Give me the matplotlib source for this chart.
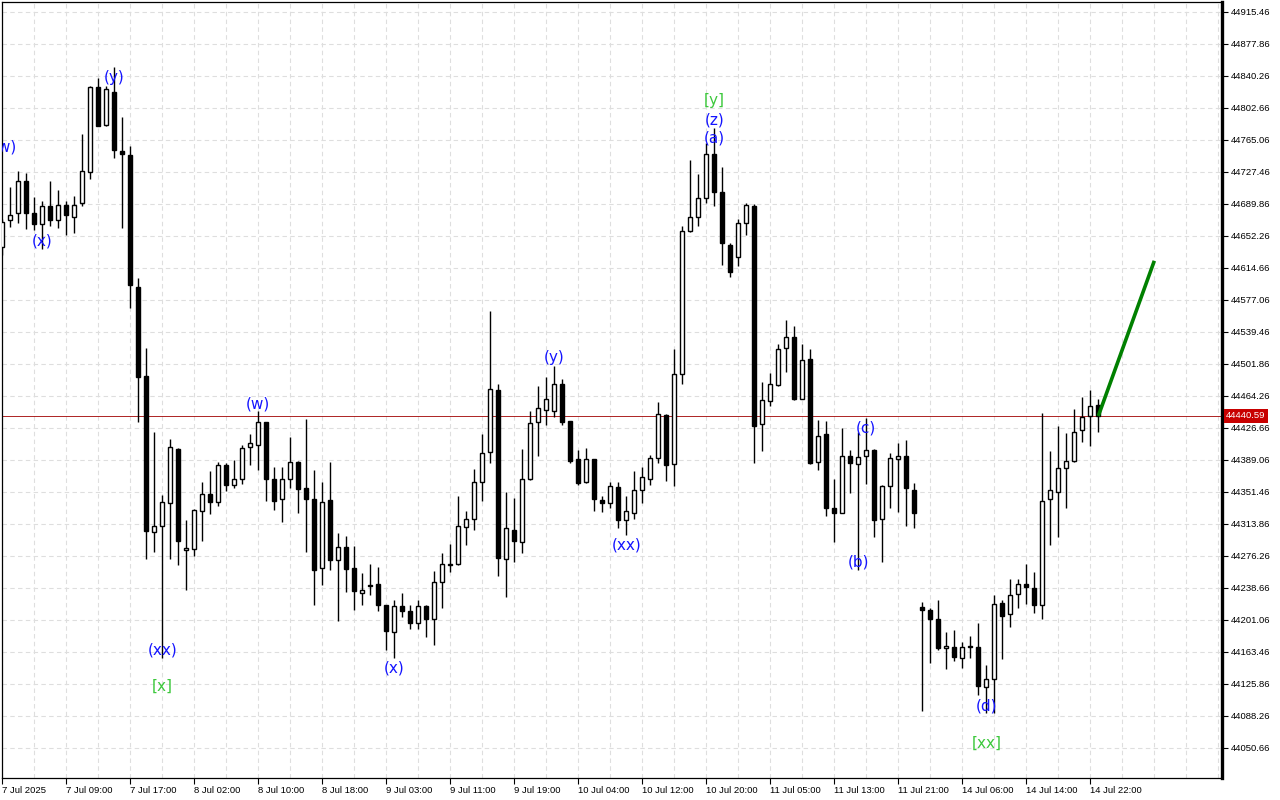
import matplotlib
matplotlib.use("Agg")
import matplotlib.pyplot as plt
from matplotlib.transforms import blended_transform_factory

# ---------------- data (hourly OHLC) ----------------
opens = [44639, 44671, 44679, 44717, 44679, 44666, 44688, 44671, 44689, 44675,
         44691, 44727, 44827, 44783, 44822, 44752, 44747, 44592, 44488, 44304,
         44311, 44338, 44402, 44283, 44284, 44329, 44349, 44339, 44383, 44359,
         44366, 44404, 44407, 44433, 44366, 44343, 44367, 44387, 44356, 44343,
         44262, 44342, 44271, 44287, 44262, 44232, 44242, 44243, 44218, 44187,
         44217, 44211, 44197, 44217, 44202, 44246, 44266, 44267, 44310, 44319,
         44363, 44398, 44471, 44272, 44307, 44293, 44366, 44433, 44448, 44446,
         44478, 44435, 44390, 44363, 44390, 44342, 44338, 44357, 44318, 44327,
         44354, 44367, 44391, 44442, 44384, 44490, 44658, 44674, 44697, 44749,
         44704, 44642, 44628, 44667, 44687, 44431, 44458, 44477, 44520, 44533,
         44461, 44507, 44386, 44419, 44332, 44327, 44393, 44384, 44394, 44401,
         44319, 44358, 44390, 44393, 44354, 44216, 44213, 44202, 44168, 44169,
         44156, 44170, 44169, 44122, 44132, 44221, 44208, 44231, 44243, 44239,
         44219, 44343, 44351, 44379, 44388, 44424, 44441, 44454]
highs = [44672, 44710, 44729, 44726, 44698, 44693, 44717, 44706, 44693, 44699,
         44772, 44829, 44838, 44829, 44851, 44792, 44758, 44603, 44521, 44422,
         44348, 44414, 44403, 44318, 44331, 44363, 44376, 44386, 44385, 44389,
         44407, 44420, 44446, 44434, 44381, 44381, 44416, 44388, 44437, 44377,
         44363, 44387, 44303, 44300, 44288, 44256, 44267, 44263, 44219, 44224,
         44233, 44218, 44224, 44218, 44258, 44279, 44290, 44347, 44329, 44378,
         44419, 44564, 44478, 44351, 44344, 44402, 44447, 44476, 44486, 44499,
         44484, 44435, 44401, 44403, 44390, 44347, 44363, 44363, 44346, 44376,
         44381, 44395, 44457, 44443, 44519, 44664, 44742, 44725, 44761, 44779,
         44733, 44644, 44672, 44691, 44690, 44480, 44491, 44525, 44554, 44546,
         44525, 44519, 44436, 44435, 44367, 44427, 44401, 44422, 44438, 44402,
         44359, 44397, 44409, 44412, 44362, 44222, 44215, 44224, 44187, 44189,
         44175, 44182, 44197, 44148, 44230, 44224, 44249, 44249, 44267, 44257,
         44444, 44399, 44429, 44421, 44449, 44463, 44471, 44460]
lows = [44630, 44663, 44668, 44660, 44659, 44637, 44664, 44662, 44653, 44656,
        44688, 44719, 44781, 44782, 44744, 44662, 44568, 44434, 44273, 44281,
        44156, 44273, 44265, 44236, 44276, 44294, 44325, 44335, 44352, 44356,
        44361, 44383, 44377, 44341, 44330, 44316, 44356, 44326, 44281, 44218,
        44242, 44260, 44200, 44234, 44212, 44218, 44230, 44211, 44166, 44156,
        44204, 44190, 44190, 44181, 44171, 44215, 44257, 44266, 44289, 44307,
        44341, 44385, 44253, 44228, 44269, 44279, 44365, 44393, 44430, 44440,
        44430, 44385, 44359, 44362, 44329, 44328, 44332, 44309, 44301, 44320,
        44338, 44360, 44385, 44364, 44358, 44478, 44657, 44664, 44691, 44687,
        44618, 44604, 44617, 44653, 44385, 44399, 44452, 44476, 44492, 44459,
        44460, 44384, 44377, 44323, 44293, 44326, 44350, 44259, 44361, 44298,
        44269, 44333, 44328, 44311, 44309, 44094, 44150, 44166, 44143, 44153,
        44144, 44156, 44113, 44091, 44091, 44155, 44193, 44215, 44220, 44209,
        44202, 44289, 44298, 44332, 44386, 44410, 44405, 44422]
closes = [44669, 44677, 44717, 44679, 44666, 44688, 44671, 44689, 44677, 44689,
          44728, 44827, 44782, 44825, 44753, 44748, 44594, 44486, 44305, 44311,
          44339, 44404, 44294, 44285, 44330, 44349, 44339, 44383, 44360, 44366,
          44403, 44409, 44433, 44367, 44341, 44367, 44387, 44355, 44343, 44259,
          44340, 44271, 44287, 44261, 44235, 44236, 44241, 44219, 44188, 44217,
          44211, 44197, 44217, 44202, 44245, 44267, 44267, 44311, 44320, 44363,
          44397, 44472, 44274, 44309, 44294, 44367, 44432, 44450, 44460, 44478,
          44434, 44388, 44362, 44390, 44343, 44338, 44358, 44318, 44329, 44354,
          44369, 44391, 44443, 44383, 44490, 44658, 44675, 44697, 44749, 44704,
          44644, 44610, 44667, 44689, 44429, 44459, 44478, 44519, 44534, 44460,
          44506, 44385, 44417, 44333, 44326, 44393, 44385, 44392, 44401, 44318,
          44358, 44391, 44394, 44356, 44327, 44212, 44202, 44168, 44170, 44157,
          44169, 44169, 44123, 44131, 44220, 44206, 44230, 44243, 44240, 44219,
          44341, 44354, 44380, 44388, 44422, 44439, 44452, 44440.59]

x_tick_bars = [0, 8, 16, 24, 32, 40, 48, 56, 64, 72, 80, 88, 96, 104, 112, 120, 128, 136]
x_tick_labels = ["7 Jul 2025", "7 Jul 09:00", "7 Jul 17:00", "8 Jul 02:00", "8 Jul 10:00",
                 "8 Jul 18:00", "9 Jul 03:00", "9 Jul 11:00", "9 Jul 19:00", "10 Jul 04:00",
                 "10 Jul 12:00", "10 Jul 20:00", "11 Jul 05:00", "11 Jul 13:00",
                 "11 Jul 21:00", "14 Jul 06:00", "14 Jul 14:00", "14 Jul 22:00"]
y_tick_values = [44050.66, 44088.26, 44125.86, 44163.46, 44201.06, 44238.66, 44276.26,
                 44313.86, 44351.46, 44389.06, 44426.66, 44464.26, 44501.86, 44539.46,
                 44577.06, 44614.66, 44652.26, 44689.86, 44727.46, 44765.06, 44802.66,
                 44840.26, 44877.86, 44915.46]
current_price = 44440.59

forecast_bars = [137, 144]
forecast_prices = [44440.59, 44623]

wave_texts = ["(w)", "(x)", "(y)", "(xx)", "[x]", "(w)", "(x)", "(y)", "(xx)",
              "[y]", "(z)", "(a)", "(c)", "(b)", "(d)", "[xx]"]
wave_bars = [0.3, 5, 14, 20, 20, 32, 49, 69, 78, 89, 89, 89, 108, 107, 123, 123]
wave_prices = [44757, 44646, 44839, 44165, 44123, 44455, 44144, 44509, 44289,
               44811, 44788, 44767, 44426, 44269, 44100, 44056]
wave_major = [False, False, False, False, True, False, False, False, False,
              True, False, False, False, False, False, True]

# ---------------- figure ----------------
fig = plt.figure(figsize=(12.8, 8), dpi=100)
ax = fig.add_axes([2 / 1280, 22 / 800, 1220 / 1280, 776 / 800])
ax.set_xlim(-0.04, 152.46)
ax.set_ylim(44015.1, 44927.2)

# grid
for gx in range(0, 153, 4):
    ax.axvline(gx, color="#dedede", lw=0.8, ls=(0, (4, 3)), zorder=0)
for gy in y_tick_values:
    ax.axhline(gy, color="#dedede", lw=0.8, ls=(0, (4, 3)), zorder=0)

# candles
n = len(opens)
xs = list(range(n))
ax.vlines(xs, lows, highs, color="black", lw=1.0, zorder=2)
bw = 0.52
for i in range(n):
    o, c = opens[i], closes[i]
    bottom = min(o, c)
    h = max(abs(c - o), 0.6)
    if c >= o:
        ax.bar(i, h, bottom=bottom, width=bw, facecolor="white", edgecolor="black",
               lw=1.0, zorder=3)
    else:
        ax.bar(i, h, bottom=bottom, width=bw, facecolor="black", edgecolor="black",
               lw=1.0, zorder=3)

# current price line
ax.axhline(current_price, color="#a00000", lw=0.6, zorder=1)

# forecast line
ax.plot(forecast_bars, forecast_prices, color="#008000", lw=2.6, zorder=4,
        solid_capstyle="butt")

# wave labels
for t, b, p, major in zip(wave_texts, wave_bars, wave_prices, wave_major):
    ax.text(b, p, t, color="#3cc83c" if major else "#1414ff", fontsize=11,
            ha="center", va="center", zorder=5, clip_on=True,
            family="DejaVu Sans")

# axes styling
for s in ["top", "left", "bottom"]:
    ax.spines[s].set_linewidth(0.9)
ax.spines["right"].set_linewidth(2.4)

ax.yaxis.tick_right()
ax.set_yticks(y_tick_values)
ax.set_yticklabels([f"{v:.2f}" for v in y_tick_values], fontsize=6.8,
                   family="Liberation Sans")
ax.tick_params(axis="y", direction="out", length=4, width=0.8, pad=2)

ax.set_xticks(x_tick_bars)
ax.set_xticklabels(x_tick_labels, fontsize=6.8, family="Liberation Sans", ha="left")
ax.tick_params(axis="x", direction="out", length=4, width=0.8, pad=2)

# current price tag
trans = blended_transform_factory(ax.transAxes, ax.transData)
ax.text(1.0035, current_price, f"{current_price:.2f}", transform=trans, color="white",
        fontsize=6.8, family="Liberation Sans", ha="left", va="center", zorder=6,
        bbox=dict(boxstyle="square,pad=0.25", facecolor="#c80000", edgecolor="none"),
        clip_on=False)

fig.savefig("out.png", dpi=100, facecolor="white")
